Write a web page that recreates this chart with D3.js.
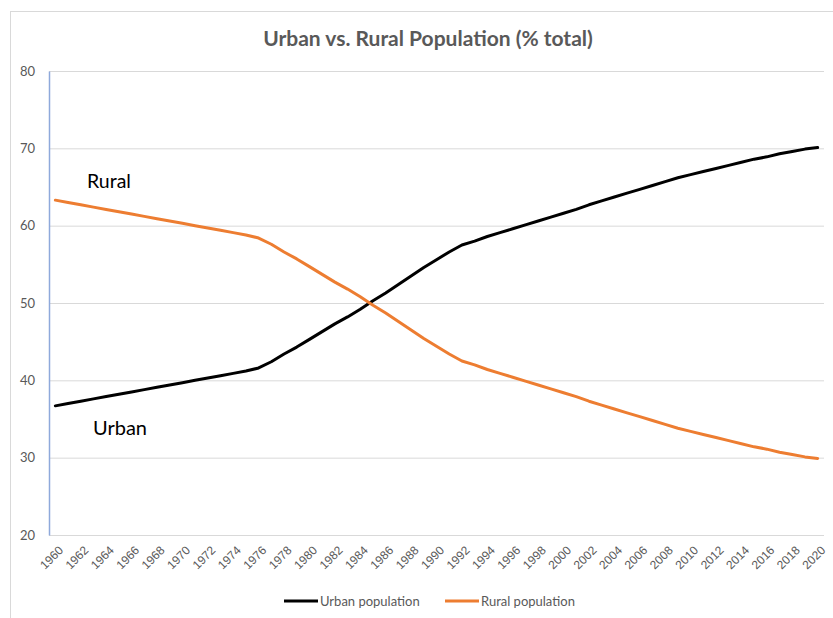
<!DOCTYPE html>
<html><head><meta charset="utf-8">
<script src="https://cdn.jsdelivr.net/npm/d3@7"></script>
<style>body{margin:0;background:#fff;} svg{display:block;font-family:Lato,"Open Sans",sans-serif;}</style>
</head><body>
<script>
const years = d3.range(1960, 2021);
const urban = [36.7,37.0,37.3,37.6,37.9,38.2,38.5,38.8,39.1,39.4,39.7,40.0,40.3,40.6,40.9,41.2,41.6,42.4,43.4,44.3,45.3,46.3,47.3,48.2,49.2,50.3,51.3,52.4,53.5,54.6,55.6,56.6,57.5,58.0,58.6,59.1,59.6,60.1,60.6,61.1,61.6,62.1,62.7,63.2,63.7,64.2,64.7,65.2,65.7,66.2,66.6,67.0,67.4,67.8,68.2,68.6,68.9,69.3,69.6,69.9,70.1];
const rural = [63.3,63.0,62.7,62.4,62.1,61.8,61.5,61.2,60.9,60.6,60.3,60.0,59.7,59.4,59.1,58.8,58.4,57.6,56.6,55.7,54.7,53.7,52.7,51.8,50.8,49.7,48.7,47.6,46.5,45.4,44.4,43.4,42.5,42.0,41.4,40.9,40.4,39.9,39.4,38.9,38.4,37.9,37.3,36.8,36.3,35.8,35.3,34.8,34.3,33.8,33.4,33.0,32.6,32.2,31.8,31.4,31.1,30.7,30.4,30.1,29.9];
const yTicks = [20,30,40,50,60,70,80];
const xLabels = years.filter(v => v % 2 === 0);
const seriesNames = ["Urban population","Rural population"];
const colors = ["#000000","#ED7D31"];

(function(){
const W = 833, H = 618;
const svg = d3.select("body").append("svg").attr("width", W).attr("height", H);
svg.append("rect").attr("x",10.5).attr("y",11.5).attr("width",840).attr("height",640)
  .attr("fill","#fff").attr("stroke","#d9d9d9");

const pL = 49, pR = 824, pT = 71, pB = 535;
const x = d3.scalePoint().domain(years).range([pL, pR]).padding(0.5);
const y = d3.scaleLinear().domain([20,80]).range([pB, pT]);

svg.append("g").selectAll("line").data(yTicks).join("line")
  .attr("x1", pL).attr("x2", pR)
  .attr("y1", d => y(d)+0.5).attr("y2", d => y(d)+0.5)
  .attr("stroke","#d9d9d9").attr("stroke-width",1);

const ya = svg.append("g").attr("transform",`translate(${pL},0)`)
  .call(d3.axisLeft(y).tickValues(yTicks).tickSize(0).tickPadding(14));
ya.select(".domain").attr("stroke","#8EA9DB").attr("stroke-width",1.5);
ya.selectAll("text").attr("fill","#595959").style("font-size","13px").style("font-family","Lato, sans-serif");

const xa = svg.append("g").attr("transform",`translate(0,${pB})`)
  .call(d3.axisBottom(x).tickValues(xLabels).tickSize(0).tickFormat(d3.format("d")));
xa.select(".domain").remove();
xa.selectAll("text").attr("fill","#595959").style("font-size","12px")
  .attr("text-anchor","end").attr("dy",null).attr("y",0)
  .attr("transform","translate(8,16) rotate(-45)");

const line = d3.line().x((d,i) => x(years[i])).y(d => y(d));
[urban, rural].forEach((s, k) => {
  svg.append("path").datum(s).attr("d", line).attr("fill","none")
    .attr("stroke", colors[k]).attr("stroke-width",3).attr("stroke-linejoin","round").attr("stroke-linecap","round");
});

svg.append("text").attr("x", 428).attr("y", 46).attr("text-anchor","middle")
  .attr("fill","#595959").style("font-size","21px").style("font-weight","bold")
  .text("Urban vs. Rural Population (% total)");

svg.append("text").attr("x", 87).attr("y", 188).style("font-size","19.5px").attr("fill","#000").text("Rural");
svg.append("text").attr("x", 93).attr("y", 435).style("font-size","20px").attr("fill","#000").text("Urban");

const leg = [{x:284, name:seriesNames[0], c:colors[0]},{x:445, name:seriesNames[1], c:colors[1]}];
leg.forEach(l => {
  svg.append("line").attr("x1", l.x).attr("x2", l.x+34).attr("y1",601).attr("y2",601)
    .attr("stroke", l.c).attr("stroke-width",3);
  svg.append("text").attr("x", l.x+36).attr("y", 605.5).attr("fill","#595959").style("font-size","13px").text(l.name);
});
})();
</script>
</body></html>
